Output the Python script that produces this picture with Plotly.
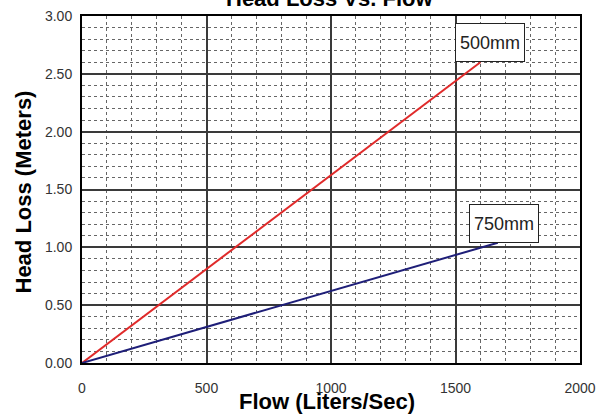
import plotly.graph_objects as go

flow_500 = [0, 400, 800, 1200, 1600]
head_500 = [0, 0.65, 1.30, 1.95, 2.60]
flow_750 = [0, 500, 1000, 1670]
head_750 = [0, 0.31, 0.62, 1.04]
x_ticks = [0, 500, 1000, 1500, 2000]
y_ticks = [0, 0.5, 1.0, 1.5, 2.0, 2.5, 3.0]
y_tick_text = ["0.00", "0.50", "1.00", "1.50", "2.00", "2.50", "3.00"]

FONT = "Liberation Sans, Arial, sans-serif"

fig = go.Figure()
fig.add_trace(go.Scatter(x=flow_500, y=head_500, mode="lines",
                         line=dict(color="#e02a2a", width=2), showlegend=False))
fig.add_trace(go.Scatter(x=flow_750, y=head_750, mode="lines",
                         line=dict(color="#1e1e78", width=2), showlegend=False))

font_tick = dict(family=FONT, size=14, color="#333")
fig.update_xaxes(range=[0, 2000], tickvals=x_ticks, tickfont=font_tick, automargin=False,
                 showgrid=True, gridcolor="#3a3a3a", gridwidth=1.5,
                 showline=True, linecolor="black", linewidth=2, mirror=True,
                 ticks="", ticklabelstandoff=11, zeroline=False,
                 minor=dict(dtick=100, showgrid=True, gridcolor="#666", griddash="dot", gridwidth=1))
fig.update_yaxes(range=[0, 3.0], tickvals=y_ticks, ticktext=y_tick_text, tickfont=font_tick, automargin=False,
                 showgrid=True, gridcolor="#3a3a3a", gridwidth=1.5,
                 showline=True, linecolor="black", linewidth=2, mirror=True,
                 ticks="", ticklabelstandoff=5, zeroline=False,
                 minor=dict(dtick=0.1, showgrid=True, gridcolor="#666", griddash="dot", gridwidth=1))

fig.add_annotation(x=flow_500[-1], y=head_500[-1], text="500mm", showarrow=False,
                   xanchor="center", yanchor="bottom", xshift=10, yshift=0,
                   width=64, height=33, borderpad=2,
                   font=dict(family=FONT, size=18, color="#222"),
                   bgcolor="white", bordercolor="#222", borderwidth=1)
fig.add_annotation(x=flow_750[-1], y=head_750[-1], text="750mm", showarrow=False,
                   xanchor="center", yanchor="bottom", xshift=6, yshift=0,
                   width=64, height=33, borderpad=2,
                   font=dict(family=FONT, size=18, color="#222"),
                   bgcolor="white", bordercolor="#222", borderwidth=1)

fig.add_annotation(x=0.5, y=1.0, xref="paper", yref="paper", text="<b>Head Loss Vs. Flow</b>",
                   showarrow=False, yanchor="middle", yshift=18, xshift=-2,
                   font=dict(family=FONT, size=22, color="black"))
fig.add_annotation(x=0.5, y=0, xref="paper", yref="paper", text="<b>Flow (Liters/Sec)</b>",
                   showarrow=False, yanchor="middle", yshift=-38, xshift=-4,
                   font=dict(family=FONT, size=22, color="black"))
fig.add_annotation(x=0, y=0.5, xref="paper", yref="paper", text="<b>Head Loss (Meters)</b>",
                   showarrow=False, textangle=-90, xanchor="center", yanchor="middle",
                   xshift=-59, yshift=-3,
                   font=dict(family=FONT, size=22, color="black"))

fig.update_layout(width=608, height=415, margin=dict(l=82, r=28, t=16, b=52),
                  paper_bgcolor="white", plot_bgcolor="white")
fig.write_html("out.html", config={"displayModeBar": False},
               post_script="document.body.style.margin='0';")
